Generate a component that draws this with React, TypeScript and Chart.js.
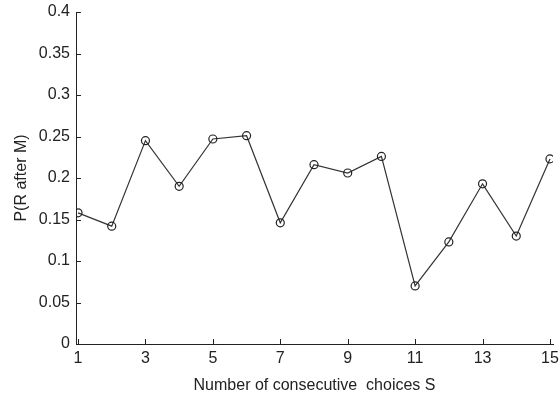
import React, { useEffect, useRef } from "react";
import { Chart, registerables } from "chart.js";

Chart.register(...registerables);

const choicesS = [1, 2, 3, 4, 5, 6, 7, 8, 9, 10, 11, 12, 13, 14, 15];
const pRafterM = [0.158, 0.142, 0.245, 0.19, 0.247, 0.251, 0.146, 0.216, 0.206, 0.226, 0.07, 0.123, 0.193, 0.13, 0.223];
const xTickValues = [1, 3, 5, 7, 9, 11, 13, 15];
const yTickValues = [0, 0.05, 0.1, 0.15, 0.2, 0.25, 0.3, 0.35, 0.4];

const FONT = "'Liberation Sans', Arial, Helvetica, sans-serif";
const INK = "#222222";

const inwardTicks = {
  id: "inwardTicks",
  afterDraw(chart: any) {
    const { ctx, chartArea } = chart;
    const xs = chart.scales.x;
    const ys = chart.scales.y;
    ctx.save();
    ctx.strokeStyle = INK;
    ctx.lineWidth = 1;
    ctx.beginPath();
    xTickValues.forEach((v) => {
      const px = Math.round(xs.getPixelForValue(v)) + 0.5;
      ctx.moveTo(px, chartArea.bottom);
      ctx.lineTo(px, chartArea.bottom - 5);
    });
    yTickValues.forEach((v) => {
      const py = Math.round(ys.getPixelForValue(v)) + 0.5;
      ctx.moveTo(chartArea.left, py);
      ctx.lineTo(chartArea.left + 5, py);
    });
    ctx.stroke();
    ctx.restore();
  },
};

export default function App() {
  const ref = useRef<HTMLCanvasElement | null>(null);
  useEffect(() => {
    if (!ref.current) return;
    const chart = new Chart(ref.current, {
      type: "line",
      data: {
        datasets: [
          {
            data: choicesS.map((x, i) => ({ x, y: pRafterM[i] })),
            borderColor: "#333333",
            borderWidth: 1.2,
            pointRadius: 4,
            pointBorderWidth: 1.2,
            pointBorderColor: "#222222",
            pointBackgroundColor: "rgba(0,0,0,0)",
            fill: false,
            tension: 0,
          },
        ],
      },
      options: {
        responsive: false,
        animation: false,
        layout: { padding: { left: 0, top: 12, right: 7, bottom: 0 } },
        plugins: { legend: { display: false }, tooltip: { enabled: false } },
        scales: {
          x: {
            type: "linear",
            min: 0.94,
            max: 15.09,
            afterBuildTicks: (scale: any) => {
              scale.ticks = xTickValues.map((v) => ({ value: v }));
            },
            afterFit: (scale: any) => {
              scale.height = 53;
              scale.paddingLeft = 0;
              scale.paddingRight = 0;
            },
            grid: { display: true, drawOnChartArea: false, drawTicks: false },
            border: { display: true, color: INK, width: 1 },
            ticks: {
              padding: 5,
              color: INK,
              font: { family: FONT, size: 16 },
              callback: (v: any) => String(v),
              maxRotation: 0,
            },
            title: {
              display: true,
              text: "Number of consecutive  choices S",
              color: INK,
              font: { family: FONT, size: 16 },
              padding: { top: 4, bottom: 2 },
            },
          },
          y: {
            type: "linear",
            min: 0,
            max: 0.4,
            afterBuildTicks: (scale: any) => {
              scale.ticks = yTickValues.map((v) => ({ value: v }));
            },
            afterFit: (scale: any) => {
              scale.width = 76;
              scale.paddingTop = 0;
              scale.paddingBottom = 0;
            },
            grid: { display: true, drawOnChartArea: false, drawTicks: false },
            border: { display: true, color: INK, width: 1 },
            ticks: {
              padding: 6,
              color: INK,
              font: { family: FONT, size: 16 },
              callback: (v: any) => String(Math.round(Number(v) * 100) / 100),
            },
            title: {
              display: true,
              text: "P(R after M)",
              color: INK,
              font: { family: FONT, size: 16 },
              padding: { top: 12, bottom: 4 },
            },
          },
        },
      },
      plugins: [inwardTicks],
    } as any);
    return () => chart.destroy();
  }, []);
  return (
    <canvas
      ref={ref}
      width={560}
      height={397}
      style={{ position: "absolute", left: 0, top: 0, width: 560, height: 397, background: "#fff" }}
    />
  );
}
